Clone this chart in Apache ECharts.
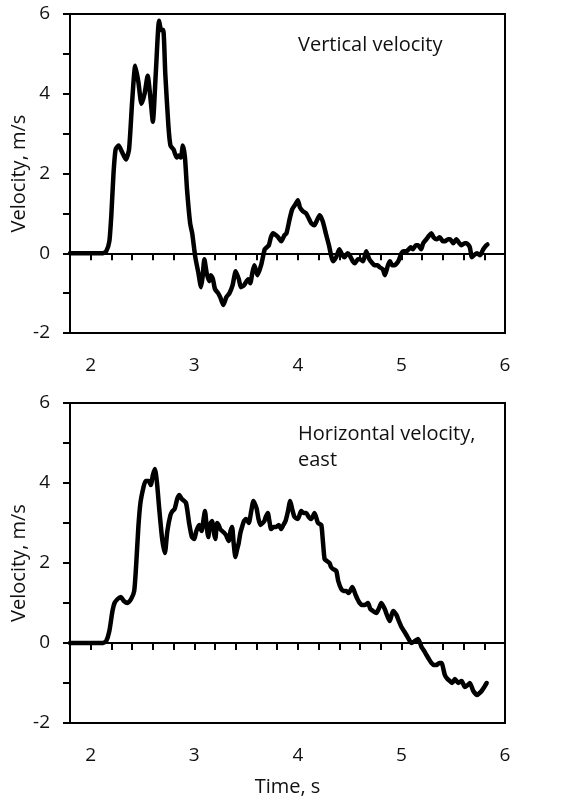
<!DOCTYPE html>
<html>
<head>
<meta charset="utf-8">
<script src="https://cdn.jsdelivr.net/npm/echarts@6/dist/echarts.min.js"></script>
<style>
html,body{margin:0;padding:0;background:#fff;}
#chart{width:580px;height:810px;}
</style>
</head>
<body>
<div id="chart"></div>
<script>
// Vertical velocity: time (s) and velocity (m/s)
const timeVert = [1.8,2.12,2.15,2.18,2.2,2.22,2.24,2.27,2.30,2.34,2.37,2.40,2.43,2.46,2.49,2.52,2.55,2.58,2.60,2.63,2.66,2.68,2.70,2.72,2.75,2.77,2.80,2.83,2.85,2.87,2.89,2.91,2.93,2.96,2.98,3.01,3.04,3.065,3.08,3.097,3.12,3.145,3.16,3.18,3.20,3.23,3.25,3.28,3.31,3.34,3.37,3.40,3.43,3.45,3.48,3.52,3.54,3.56,3.58,3.61,3.645,3.68,3.70,3.72,3.74,3.76,3.79,3.81,3.84,3.87,3.89,3.92,3.945,3.97,4.00,4.02,4.05,4.08,4.11,4.13,4.16,4.18,4.21,4.24,4.27,4.30,4.34,4.37,4.40,4.43,4.45,4.48,4.50,4.53,4.55,4.58,4.60,4.63,4.66,4.69,4.72,4.74,4.77,4.79,4.82,4.84,4.87,4.89,4.91,4.935,4.97,5.00,5.02,5.05,5.07,5.09,5.11,5.14,5.16,5.19,5.21,5.24,5.27,5.29,5.31,5.34,5.37,5.40,5.42,5.45,5.47,5.50,5.53,5.56,5.58,5.61,5.63,5.66,5.68,5.70,5.73,5.76,5.79,5.82,5.83];
const velVert = [0,0,0.05,0.3,1.0,2.0,2.6,2.7,2.55,2.35,2.6,3.8,4.7,4.3,3.75,4.0,4.45,3.8,3.3,4.6,5.83,5.6,5.6,4.5,3.2,2.7,2.6,2.4,2.45,2.4,2.7,2.4,1.6,0.75,0.5,-0.1,-0.5,-0.85,-0.6,-0.15,-0.5,-0.7,-0.55,-0.65,-0.9,-1.0,-1.1,-1.3,-1.1,-1.0,-0.8,-0.45,-0.65,-0.85,-0.8,-0.65,-0.75,-0.5,-0.3,-0.55,-0.3,0.1,0.15,0.2,0.4,0.5,0.45,0.4,0.3,0.45,0.5,0.85,1.1,1.2,1.33,1.15,1.05,1.0,0.85,0.75,0.7,0.8,0.95,0.8,0.5,0.2,-0.2,-0.1,0.1,-0.05,-0.1,0.0,-0.05,-0.2,-0.25,-0.15,-0.15,-0.2,0.05,-0.15,-0.25,-0.3,-0.3,-0.35,-0.4,-0.55,-0.3,-0.2,-0.3,-0.3,-0.2,0.0,0.05,0.05,0.1,0.15,0.1,0.2,0.2,0.1,0.25,0.35,0.45,0.5,0.4,0.35,0.4,0.3,0.3,0.35,0.35,0.25,0.35,0.25,0.2,0.25,0.25,0.15,-0.1,-0.05,0.0,-0.05,0.1,0.2,0.22];

// Horizontal velocity, east
const timeHoriz = [1.8,2.12,2.15,2.18,2.21,2.23,2.26,2.29,2.32,2.355,2.39,2.42,2.44,2.46,2.48,2.51,2.53,2.56,2.58,2.60,2.62,2.64,2.66,2.69,2.716,2.74,2.77,2.79,2.81,2.835,2.855,2.88,2.92,2.95,2.977,3.0,3.02,3.048,3.07,3.09,3.103,3.12,3.135,3.15,3.171,3.19,3.203,3.22,3.235,3.25,3.268,3.29,3.306,3.332,3.35,3.365,3.38,3.397,3.41,3.429,3.445,3.461,3.48,3.5,3.526,3.55,3.571,3.59,3.603,3.62,3.639,3.66,3.677,3.69,3.71,3.725,3.742,3.765,3.79,3.815,3.839,3.86,3.881,3.905,3.926,3.945,3.968,4.0,4.032,4.055,4.081,4.105,4.129,4.161,4.194,4.226,4.24,4.258,4.28,4.306,4.32,4.339,4.371,4.39,4.419,4.44,4.468,4.49,4.526,4.558,4.575,4.597,4.62,4.645,4.677,4.70,4.726,4.758,4.78,4.806,4.839,4.86,4.887,4.919,4.952,4.975,5.0,5.025,5.048,5.07,5.097,5.13,5.161,5.194,5.22,5.242,5.265,5.29,5.315,5.339,5.365,5.387,5.419,5.445,5.468,5.49,5.516,5.548,5.581,5.613,5.64,5.661,5.694,5.732,5.755,5.774,5.80,5.823];
const velHoriz = [0,0,0.05,0.3,0.8,1.0,1.1,1.15,1.05,1.0,1.1,1.3,2.0,2.9,3.5,3.9,4.05,4.05,3.95,4.2,4.35,4.0,3.4,2.6,2.25,2.8,3.2,3.3,3.35,3.6,3.7,3.6,3.5,3.0,2.65,2.6,2.8,2.95,2.8,3.1,3.3,2.9,2.65,2.95,3.05,2.75,2.6,3.0,2.95,2.85,2.8,2.75,2.7,2.55,2.8,2.9,2.5,2.15,2.3,2.5,2.75,2.9,3.05,3.1,3.0,3.3,3.55,3.45,3.35,3.1,2.95,3.0,3.05,3.15,3.25,3.05,2.85,2.9,2.9,2.95,2.85,2.95,3.05,3.3,3.55,3.35,3.15,3.1,3.3,3.25,3.25,3.15,3.1,3.25,3.0,2.95,2.6,2.1,2.05,2.0,1.9,1.85,1.8,1.55,1.35,1.3,1.3,1.25,1.4,1.2,1.1,1.0,0.95,0.95,1.0,0.85,0.8,0.75,0.85,1.0,0.85,0.7,0.55,0.8,0.7,0.55,0.4,0.3,0.2,0.1,0.0,0.05,0.1,-0.1,-0.2,-0.3,-0.4,-0.5,-0.55,-0.55,-0.5,-0.5,-0.8,-0.9,-0.95,-1.0,-0.9,-1.0,-0.95,-1.1,-1.05,-1.0,-1.2,-1.3,-1.25,-1.2,-1.1,-1.0];

// Axis settings
const xMin = 1.8, xMax = 6, xStep = 0.2;
const yMin = -2, yMax = 6, yStep = 1;
const panelTitles = ['Vertical velocity', 'Horizontal velocity,\neast'];
const yAxisTitle = 'Velocity, m/s';
const xAxisTitle = 'Time, s';

const FONT = 'Open Sans';
const zip = (a, b) => a.map((t, i) => [t, b[i]]);

function xAxisCfg(gridIndex, withName) {
  return {
    type: 'value', gridIndex, min: xMin, max: xMax, interval: xStep,
    axisLine: { show: true, lineStyle: { color: '#000', width: 2 } },
    axisTick: { show: true, inside: false, length: 7, lineStyle: { color: '#000', width: 2 } },
    splitLine: { show: false },
    axisLabel: {
      color: '#111', fontFamily: FONT, fontSize: 19, margin: 23,
      formatter: v => Math.abs(v - Math.round(v)) < 1e-6 ? String(Math.round(v)) : ''
    },
    name: withName ? xAxisTitle : '',
    nameLocation: 'middle', nameGap: 54, nameMoveOverlap: false,
    nameTextStyle: { color: '#111', fontFamily: FONT, fontSize: 20 }
  };
}
function yAxisCfg(gridIndex) {
  return {
    type: 'value', gridIndex, min: yMin, max: yMax, interval: yStep,
    axisLine: { show: true, lineStyle: { color: '#000', width: 2 } },
    axisTick: { show: true, inside: false, length: 7, lineStyle: { color: '#000', width: 2 } },
    splitLine: { show: false },
    axisLabel: {
      color: '#111', fontFamily: FONT, fontSize: 19, margin: 20,
      formatter: v => (Math.round(v) % 2 === 0) ? String(Math.round(v)) : ''
    },
    name: yAxisTitle, nameLocation: 'middle', nameGap: 41, nameRotate: 90, nameMoveOverlap: false,
    nameTextStyle: { color: '#111', fontFamily: FONT, fontSize: 20 }
  };
}

const chart = echarts.init(document.getElementById('chart'), null, { renderer: 'canvas' });
chart.setOption({
  backgroundColor: '#fff',
  animation: false,
  title: [
    { text: panelTitles[0], left: 298, top: 35, padding: 0, textStyle: { color: '#111', fontFamily: FONT, fontSize: 20, fontWeight: 'normal' } },
    { text: panelTitles[1], left: 298, top: 421, padding: 0, textStyle: { color: '#111', fontFamily: FONT, fontSize: 20, fontWeight: 'normal', lineHeight: 26 } }
  ],
  grid: [
    { left: 70, width: 435, top: 14, height: 319, show: true, borderColor: '#000', borderWidth: 2, backgroundColor: 'transparent', outerBoundsMode: 'none', containLabel: false },
    { left: 70, width: 435, top: 403, height: 320, show: true, borderColor: '#000', borderWidth: 2, backgroundColor: 'transparent', outerBoundsMode: 'none', containLabel: false }
  ],
  xAxis: [xAxisCfg(0, false), xAxisCfg(1, true)],
  yAxis: [yAxisCfg(0), yAxisCfg(1)],
  series: [
    { type: 'line', xAxisIndex: 0, yAxisIndex: 0, data: zip(timeVert, velVert), showSymbol: false, smooth: 0.2,
      lineStyle: { color: '#000', width: 4.5, join: 'round', cap: 'round' } },
    { type: 'line', xAxisIndex: 1, yAxisIndex: 1, data: zip(timeHoriz, velHoriz), showSymbol: false, smooth: 0.2,
      lineStyle: { color: '#000', width: 4.5, join: 'round', cap: 'round' } }
  ]
});
</script>
</body>
</html>
